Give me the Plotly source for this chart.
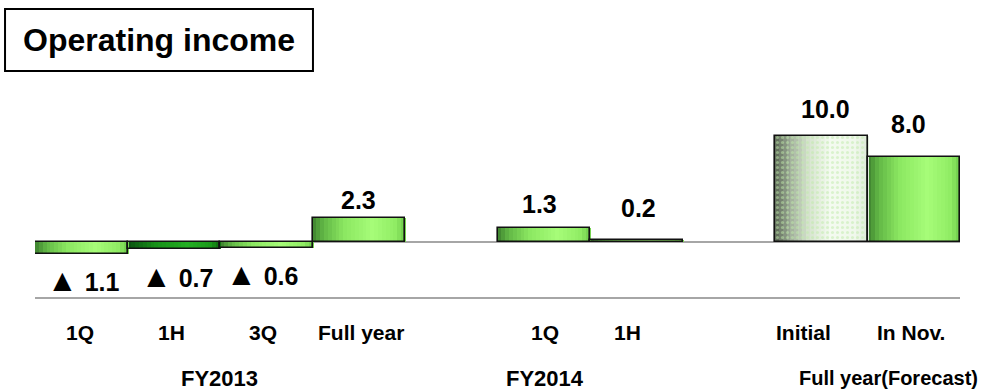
import plotly.graph_objects as go

# ---- data ----
categories = ["1Q", "1H", "3Q", "Full year", "1Q", "1H", "Initial", "In Nov."]
positions = [0, 1, 2, 3, 5, 6, 8, 9]
values = [-1.1, -0.7, -0.6, 2.3, 1.3, 0.2, 10.0, 8.0]
value_labels = ["▲ 1.1", "▲ 0.7", "▲ 0.6", "2.3", "1.3", "0.2", "10.0", "8.0"]
groups = ["FY2013", "FY2014", "Full year(Forecast)"]
group_positions = [1.5, 5.5, 8.5]
title_text = "Operating income"

# ---- styles ----
FONT = "Liberation Sans, Arial, sans-serif"
label_yshift = [-27, -27, -26, 18, 24, 32, 27, 33]
label_xshift = [2, 3, -4, 0, -4, 2, 4, -5]
cat_xshift = [-1, -2, -3, 2, 1, -9, -18, -3]
group_xshift = [-1, -45, 0]
group_sizes = [22, 22, 20]
styles = ["green", "dark", "green", "green", "green", "green", "pale", "green"]

gradients = {
    "green": [(0.0, "#3c7f2e"), (0.12, "#62b846"), (0.35, "#8ce862"),
              (0.65, "#a6fc78"), (0.9, "#90ec64"), (1.0, "#6fcc4c")],
    "dark": [(0.0, "#0a5010"), (0.3, "#179018"), (0.65, "#22ae22"),
             (0.9, "#1a9a1a"), (1.0, "#106c10")],
    "pale": [(0.0, "#5a6654"), (0.15, "#9aa894"), (0.35, "#d4e2cc"),
             (0.6, "#f4fbf0"), (0.85, "#f0f8ec"), (1.0, "#dfeada")],
}


def hex2rgb(h):
    h = h.lstrip("#")
    return tuple(int(h[i:i + 2], 16) for i in (0, 2, 4))


def grad_color(stops, t):
    for (t0, c0), (t1, c1) in zip(stops[:-1], stops[1:]):
        if t0 <= t <= t1:
            f = (t - t0) / (t1 - t0) if t1 > t0 else 0
            a, b = hex2rgb(c0), hex2rgb(c1)
            r = [round(a[i] + (b[i] - a[i]) * f) for i in range(3)]
            return "rgb(%d,%d,%d)" % tuple(r)
    return stops[-1][1]


def fmt_label(s):
    if s.startswith("▲"):
        return '<b><span style="font-size:31px">▲</span>%s</b>' % s[1:]
    return "<b>%s</b>" % s


fig = go.Figure()
N = 24
for k in range(N):
    t = (k + 0.5) / N
    colors = [grad_color(gradients[s], t) for s in styles]
    fig.add_trace(go.Bar(
        x=positions, y=values, width=1.0 / N + 0.012, offset=-0.5 + k / N,
        marker=dict(color=colors, line=dict(width=0)),
        hoverinfo="skip", showlegend=False))

# outline + pattern
fig.add_trace(go.Bar(
    x=positions, y=values, width=1.0, offset=-0.5,
    marker=dict(color="rgba(0,0,0,0)",
                line=dict(color="#111111", width=1.6),
                pattern=dict(shape=["." if s == "pale" else "" for s in styles],
                             fgcolor="#bfeaaa", size=5, solidity=0.3,
                             fillmode="overlay")),
    hoverinfo="skip", showlegend=False))

annotations = []
for x, v, lab, ys, xs in zip(positions, values, value_labels, label_yshift, label_xshift):
    annotations.append(dict(x=x, y=v, xref="x", yref="y", text=fmt_label(lab),
                            showarrow=False, yshift=ys, xshift=xs, yanchor="middle",
                            font=dict(family=FONT, size=25, color="black")))
for x, c, xs in zip(positions, categories, cat_xshift):
    annotations.append(dict(x=x, y=0, xref="x", yref="paper", text="<b>%s</b>" % c,
                            showarrow=False, yshift=-35, xshift=xs, yanchor="middle",
                            font=dict(family=FONT, size=21, color="black")))
for i, (x, g, xs, sz) in enumerate(zip(group_positions, groups, group_xshift, group_sizes)):
    ann = dict(x=x, y=0, xref="x", yref="paper", text="<b>%s</b>" % g,
               showarrow=False, yshift=-81, xshift=xs, yanchor="middle",
               font=dict(family=FONT, size=sz, color="black"))
    if i == len(groups) - 1:
        ann.update(x=1.022, xref="paper", xanchor="right")
    annotations.append(ann)
# title in box
annotations.append(dict(x=0.134, y=1.412, xref="paper", yref="paper",
                        text="<b>%s</b>" % title_text, showarrow=False,
                        xanchor="center", yanchor="middle",
                        font=dict(family=FONT, size=32, color="black")))

fig.update_layout(
    width=981, height=391,
    margin=dict(l=35, r=21, t=115, b=94),
    paper_bgcolor="white", plot_bgcolor="white",
    barmode="overlay", bargap=0,
    annotations=annotations,
    shapes=[dict(type="rect", xref="paper", yref="paper",
                 x0=-0.0324, x1=0.3005, y0=1.2418, y1=1.5824,
                 line=dict(color="black", width=2), fillcolor="rgba(0,0,0,0)")],
    xaxis=dict(range=[-0.5, 9.5], showticklabels=False, ticks="", showgrid=False,
               zeroline=False, showline=True, linecolor="#a6a6a6", linewidth=2,
               fixedrange=True),
    yaxis=dict(range=[-5.19, 12.0], showticklabels=False, ticks="", showgrid=False,
               zeroline=True, zerolinecolor="#a6a6a6", zerolinewidth=2,
               showline=False, fixedrange=True),
)

fig.write_html("out.html")
